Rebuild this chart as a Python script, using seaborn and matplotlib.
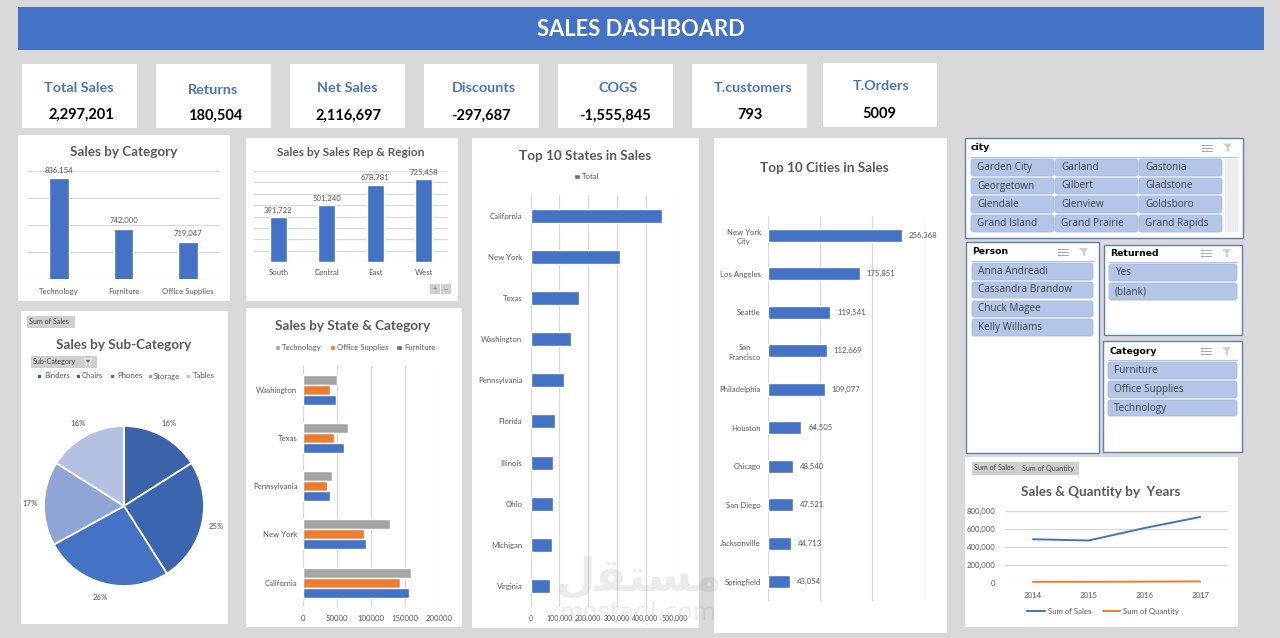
import matplotlib
matplotlib.use("Agg")
import matplotlib.pyplot as plt
import numpy as np
import pandas as pd
import seaborn as sns
from matplotlib.patches import FancyBboxPatch, Polygon, Rectangle
from matplotlib.ticker import FuncFormatter

# ---- data ----
kpi_names = ["Total Sales", "Returns", "Net Sales", "Discounts", "COGS", "T.customers", "T.Orders"]
kpi_values = ["2,297,201", "180,504", "2,116,697", "-297,687", "-1,555,845", "793", "5009"]

category_names = ["Technology", "Furniture", "Office Supplies"]
category_sales = [836154, 742000, 719047]

region_names = ["South", "Central", "East", "West"]
region_sales = [391722, 501240, 678781, 725458]

subcat_names = ["Binders", "Chairs", "Phones", "Storage", "Tables"]
subcat_share = [16, 25, 26, 17, 16]
subcat_colors = ["#3A63A9", "#3B65AE", "#4472C4", "#8FA5D6", "#B4C1E2"]

state_names = ["Washington", "Texas", "Pennsylvania", "New York", "California"]
state_technology = [50000, 66000, 42500, 128000, 159000]
state_office = [40000, 46000, 35000, 90000, 142000]
state_furniture = [48000, 60000, 40000, 92500, 156000]

top_states = ["California", "New York", "Texas", "Washington", "Pennsylvania",
              "Florida", "Illinois", "Ohio", "Michigan", "Virginia"]
top_state_sales = [458000, 311000, 169000, 139000, 115000, 86000, 78000, 78000, 74000, 67000]

top_cities = ["New York\nCity", "Los Angeles", "Seattle", "San\nFrancisco", "Philadelphia",
              "Houston", "Chicago", "San Diego", "Jacksonville", "Springfield"]
top_city_sales = [256368, 175851, 119541, 112669, 109077, 64505, 48540, 47521, 44713, 43054]

years = ["2014", "2015", "2016", "2017"]
yearly_sales = [484000, 470000, 609000, 733000]
yearly_quantity = [7600, 8000, 9800, 12500]

city_slicer = ["Garden City", "Garland", "Gastonia", "Georgetown", "Gilbert", "Gladstone",
               "Glendale", "Glenview", "Goldsboro", "Grand Island", "Grand Prairie", "Grand Rapids"]
person_slicer = ["Anna Andreadi", "Cassandra Brandow", "Chuck Magee", "Kelly Williams"]
returned_slicer = ["Yes", "(blank)"]
category_slicer = ["Furniture", "Office Supplies", "Technology"]

# ---- styling ----
W, H = 1280, 638
BLUE, ORANGE, GREY = "#4472C4", "#ED7D31", "#A5A5A5"
TEXT, GRID = "#595959", "#D9D9D9"
TITLE_FS, TICK_FS = 9.7, 5.6

sns.set_theme(style="white")
plt.rcParams["font.family"] = ["Lato", "DejaVu Sans"]
plt.rcParams["axes.facecolor"] = "none"

fig = plt.figure(figsize=(W / 100, H / 100), dpi=100, facecolor="#D9D9D9")

# Full-figure layer addressed in pixels, for cards, slicers and titles.
bg = fig.add_axes([0, 0, 1, 1], zorder=0)
bg.set_xlim(0, W)
bg.set_ylim(H, 0)
bg.axis("off")


def card(x0, y0, x1, y1, fc="white", ec="none", lw=0):
    bg.add_patch(Rectangle((x0, y0), x1 - x0, y1 - y0, fc=fc, ec=ec, lw=lw))


def label(x, y, s, size=TICK_FS, color=TEXT, weight="normal", ha="center", family=None):
    kw = {"family": family} if family else {}
    bg.text(x, y, s, fontsize=size, color=color, fontweight=weight, ha=ha, va="center", **kw)


def chart_axes(x0, y0, x1, y1):
    ax = fig.add_axes([x0 / W, 1 - y1 / H, (x1 - x0) / W, (y1 - y0) / H], zorder=1)
    ax.set_xlabel("")
    ax.set_ylabel("")
    return ax


def finish(ax, grid_axis):
    sns.despine(ax=ax, left=True, bottom=True)
    ax.set_axisbelow(True)
    ax.grid(True, axis=grid_axis, color=GRID, lw=0.9)
    ax.set_xlabel("")
    ax.set_ylabel("")
    ax.tick_params(length=0, labelsize=TICK_FS, labelcolor=TEXT)


def field_button(x0, y0, x1, y1, s):
    bg.add_patch(Rectangle((x0, y0), x1 - x0, y1 - y0, fc="#CFCFCF", ec="#BDBDBD", lw=0.4))
    label(x0 + 2, (y0 + y1) / 2, s, size=5.1, color="#404040", ha="left")


comma = FuncFormatter(lambda v, _: f"{v:,.0f}")

# ---- header and KPI cards ----
card(18, 7, 1264, 49.5, fc=BLUE)
label(641, 30, "SALES DASHBOARD", size=15.8, color="white", weight="bold")

kpi_boxes = [(22, 64, 137, 128), (156, 64, 271, 128), (290, 64, 405, 128), (424, 64, 539, 128),
             (558, 64, 673, 128), (692, 64, 807, 128), (823, 63, 937, 127)]
kpi_title_pos = [(79, 88.5), (213, 89.5), (347, 88.5), (484, 87.5), (618, 87.5), (753, 87.5), (881, 86.5)]
kpi_value_pos = [(81, 115), (215, 116), (349, 116), (481, 116), (615, 116), (750, 115), (879, 114)]
for box, name, value, tp, vp in zip(kpi_boxes, kpi_names, kpi_values, kpi_title_pos, kpi_value_pos):
    card(*box)
    label(tp[0], tp[1], name, size=10.4, color="#4A75BE", weight="bold")
    label(vp[0], vp[1], value, size=10.5, color="black", weight="bold")

# ---- Sales by Category ----
card(18, 135, 230, 301)
label(123.5, 152, "Sales by Category", size=TITLE_FS, weight="bold")
ax = chart_axes(27, 171, 220, 279)
sns.barplot(data=pd.DataFrame({"c": category_names, "v": category_sales}), x="c", y="v",
            color=BLUE, saturation=1, width=0.31, ax=ax)
ax.set_ylim(650000, 850000)
ax.set_yticks(np.arange(650000, 850001, 50000))
finish(ax, "y")
ax.set_yticklabels([])
ax.tick_params(axis="x", pad=6.5)
ax.bar_label(ax.containers[0], fmt="{:,.0f}", padding=3.5, fontsize=TICK_FS, color=TEXT)

# ---- Sales by Sales Rep & Region ----
card(246, 138, 458, 301)
label(351, 153, "Sales by Sales Rep & Region", size=8.6, weight="bold")
ax = chart_axes(254, 171, 448, 262)
sns.barplot(data=pd.DataFrame({"r": region_names, "v": region_sales}), x="r", y="v",
            color=BLUE, saturation=1, width=0.35, ax=ax)
ax.set_ylim(0, 800000)
ax.set_yticks(np.arange(0, 800001, 100000))
finish(ax, "y")
ax.set_yticklabels([])
ax.tick_params(axis="x", pad=5)
ax.bar_label(ax.containers[0], fmt="{:,.0f}", padding=2.5, fontsize=TICK_FS, color=TEXT)
for x0, sign in ((430, "+"), (441, "−")):
    bg.add_patch(Rectangle((x0, 284), 9.5, 10, fc="#D0D0D0", ec="none"))
    label(x0 + 4.7, 289, sign, size=5.5, color="#707070")

# ---- Sales by Sub-Category ----
card(21, 311, 228, 624)
field_button(27, 316, 74, 327, "Sum of Sales")
label(124, 345, "Sales by Sub-Category", size=TITLE_FS, weight="bold")
field_button(31, 356, 96, 367, "Sub-Category")
bg.add_patch(Polygon([(84, 359), (92, 359), (89, 362.5), (89, 365.5), (87, 365.5), (87, 362.5)], fc="#505050"))
ax = chart_axes(44, 426, 204, 586)
ax.pie(subcat_share, labels=None, colors=subcat_colors, startangle=90, counterclock=False,
       wedgeprops={"edgecolor": "white", "linewidth": 1.3},
       autopct=lambda p: f"{p:.0f}%", pctdistance=1.18,
       textprops={"fontsize": TICK_FS, "color": TEXT})
ax.set_xlim(-1, 1)
ax.set_ylim(-1, 1)
ax.set_aspect("equal")
# Legend row, one small square and name per slice.
for name, color, mx, tx in zip(subcat_names, subcat_colors, [39, 78, 112, 150, 188], [44, 82, 117, 154, 193]):
    bg.add_patch(Rectangle((mx - 1.5, 374.5), 3, 3, fc=color, ec="none"))
    label(tx, 376, name, ha="left")

# ---- Sales by State & Category ----
card(246, 308, 462, 627)
label(353, 326, "Sales by State & Category", size=TITLE_FS, weight="bold")
state_long = pd.DataFrame({
    "state": state_names * 3,
    "category": ["Technology"] * 5 + ["Office Supplies"] * 5 + ["Furniture"] * 5,
    "sales": state_technology + state_office + state_furniture,
})
ax = chart_axes(303, 365.7, 439.3, 606.7)
sns.barplot(data=state_long, y="state", x="sales", hue="category", orient="h",
            palette=[GREY, ORANGE, BLUE], saturation=1, width=0.62, gap=0, ax=ax)
ax.set_xlim(0, 200000)
ax.set_xticks(np.arange(0, 200001, 50000))
finish(ax, "x")
ax.tick_params(axis="x", pad=6)
ax.tick_params(axis="y", pad=4)
ax.legend(loc="center", bbox_to_anchor=(355 / W, 1 - 347.5 / H), bbox_transform=fig.transFigure,
          ncol=3, frameon=False, fontsize=TICK_FS, labelcolor=TEXT, title=None,
          handlelength=0.7, handleheight=0.7, handletextpad=0.3, columnspacing=0.95)

# ---- Top 10 States ----
card(472, 138, 699, 628)
label(585.5, 155.5, "Top 10 States in Sales", size=TITLE_FS, weight="bold")
ax = chart_axes(530.7, 195, 674.3, 606.7)
sns.barplot(data=pd.DataFrame({"s": top_states, "Total": top_state_sales}), y="s", x="Total", orient="h",
            color=BLUE, saturation=1, width=0.34, ax=ax, label="Total")
ax.set_xlim(0, 500000)
ax.set_xticks(np.arange(0, 500001, 100000))
finish(ax, "x")
ax.xaxis.set_major_formatter(comma)
ax.tick_params(axis="x", pad=6, labelsize=5.0)
ax.tick_params(axis="y", pad=6)
ax.legend(loc="center", bbox_to_anchor=(587 / W, 1 - 176.5 / H), bbox_transform=fig.transFigure,
          frameon=False, fontsize=TICK_FS, labelcolor=TEXT,
          handlelength=0.7, handleheight=0.7, handletextpad=0.3)

# ---- Top 10 Cities ----
card(714, 138, 947, 633)
label(824.5, 168.5, "Top 10 Cities in Sales", size=TITLE_FS, weight="bold")
ax = chart_axes(767.7, 216, 924.7, 601)
sns.barplot(data=pd.DataFrame({"c": top_cities, "v": top_city_sales}), y="c", x="v", orient="h",
            color=BLUE, saturation=1, width=0.35, ax=ax)
ax.set_xlim(0, 300000)
ax.set_xticks(np.arange(0, 300001, 100000))
finish(ax, "x")
ax.set_xticklabels([])
ax.tick_params(axis="y", pad=5)
for tick in ax.get_yticklabels():
    tick.set_multialignment("center")
    tick.set_linespacing(1.45)
ax.bar_label(ax.containers[0], fmt="{:,.0f}", padding=5, fontsize=TICK_FS, color=TEXT)


# ---- slicers ----
def slicer_icons(x, y):
    for dy in (-3, 0, 3):
        bg.plot([x - 2, x + 5], [y + dy, y + dy], color="#A6A6A6", lw=0.7)
        bg.plot([x - 5, x - 3.5], [y + dy, y + dy], color="#A6A6A6", lw=1.0)
    fx = x + 21
    bg.add_patch(Polygon([(fx - 5, y - 4), (fx + 4, y - 4), (fx + 1, y), (fx + 1, y + 4), (fx - 1, y + 4), (fx - 1, y)],
                         fc="#CFCFCF", ec="none"))


def slicer(box, title, title_y, sep_y, items, buttons):
    x0, y0, x1, y1 = box
    card(x0, y0, x1, y1, fc="white", ec="#5F7FAE", lw=1.0)
    label(x0 + 6, title_y, title, size=6.7, color="black", weight="bold", ha="left", family="DejaVu Sans")
    bg.plot([x0 + 5, x1 - 5], [sep_y, sep_y], color="#B4C6E7", lw=0.9)
    slicer_icons(x1 - 36, title_y)
    for item, (bx0, by0, bx1, by1) in zip(items, buttons):
        bg.add_patch(FancyBboxPatch((bx0 + 1.5, by0 + 1.5), bx1 - bx0 - 3, by1 - by0 - 3,
                                    boxstyle="round,pad=1.5,rounding_size=2.5",
                                    fc="#B4C6E7", ec="#A9B9D6", lw=0.6))
        label(bx0 + 6, (by0 + by1) / 2, item, size=7.2, color="#404040", ha="left", family="Open Sans")


city_cols = [(971, 1054), (1055, 1138), (1139, 1222)]
city_rows = [(159, 176), (178, 194), (196, 213), (215, 232)]
slicer((965, 138, 1243, 238), "city", 147.5, 157, city_slicer,
       [(c[0], r[0], c[1], r[1]) for r in city_rows for c in city_cols])
card(1225, 159, 1238, 232, fc="#EDEDED")
slicer((966, 242, 1099, 453), "Person", 252, 261, person_slicer,
       [(972, a, 1093, b) for a, b in [(263, 280), (282, 298), (301, 317), (319, 336)]])
slicer((1104, 245, 1242, 335), "Returned", 253, 262, returned_slicer,
       [(1109, a, 1237, b) for a, b in [(264, 281), (283, 300)]])
slicer((1103, 341, 1242, 452), "Category", 351, 360, category_slicer,
       [(1108, a, 1237, b) for a, b in [(362, 379), (381, 398), (400, 416)]])

# ---- Sales & Quantity by Years ----
card(965, 457, 1238, 627)
field_button(972, 462, 1019, 474, "Sum of Sales")
field_button(1020, 462, 1078, 474, "Sum of Quantity")
label(1101, 491.5, "Sales & Quantity by  Years", size=TITLE_FS, weight="bold")
yearly_long = pd.DataFrame({
    "year": years * 2,
    "series": ["Sum of Sales"] * 4 + ["Sum of Quantity"] * 4,
    "value": yearly_sales + yearly_quantity,
})
ax = chart_axes(1005, 511, 1228, 582.5)
sns.lineplot(data=yearly_long, x="year", y="value", hue="series", palette=[BLUE, ORANGE],
             lw=1.4, errorbar=None, ax=ax)
ax.set_xlim(-0.5, 3.5)
ax.set_ylim(0, 800000)
ax.set_yticks(np.arange(0, 800001, 200000))
finish(ax, "y")
ax.yaxis.set_major_formatter(comma)
ax.tick_params(axis="x", pad=7)
ax.tick_params(axis="y", pad=7)
for line in ax.get_lines():
    line.set_clip_on(False)
ax.legend(loc="center", bbox_to_anchor=(1103 / W, 1 - 611.5 / H), bbox_transform=fig.transFigure,
          ncol=2, frameon=False, fontsize=TICK_FS, labelcolor=TEXT, title=None,
          handlelength=2.3, handletextpad=0.3, columnspacing=1.5)

# ---- site mark across the lower middle ----
mark = (0.45, 0.45, 0.45, 0.13)
fig.text(639 / W, 1 - 578 / H, "\ufedd\ufed8\ufe98\ufeb4\ufee3", fontsize=33, color=mark, ha="center",
         va="center", family="DejaVu Sans", fontweight="bold", zorder=5)
fig.text(638 / W, 1 - 613 / H, "mostaql.com", fontsize=17.5, color=mark, ha="center", va="center",
         family="DejaVu Sans", zorder=5)

fig.savefig("out.png", dpi=100, facecolor=fig.get_facecolor())
